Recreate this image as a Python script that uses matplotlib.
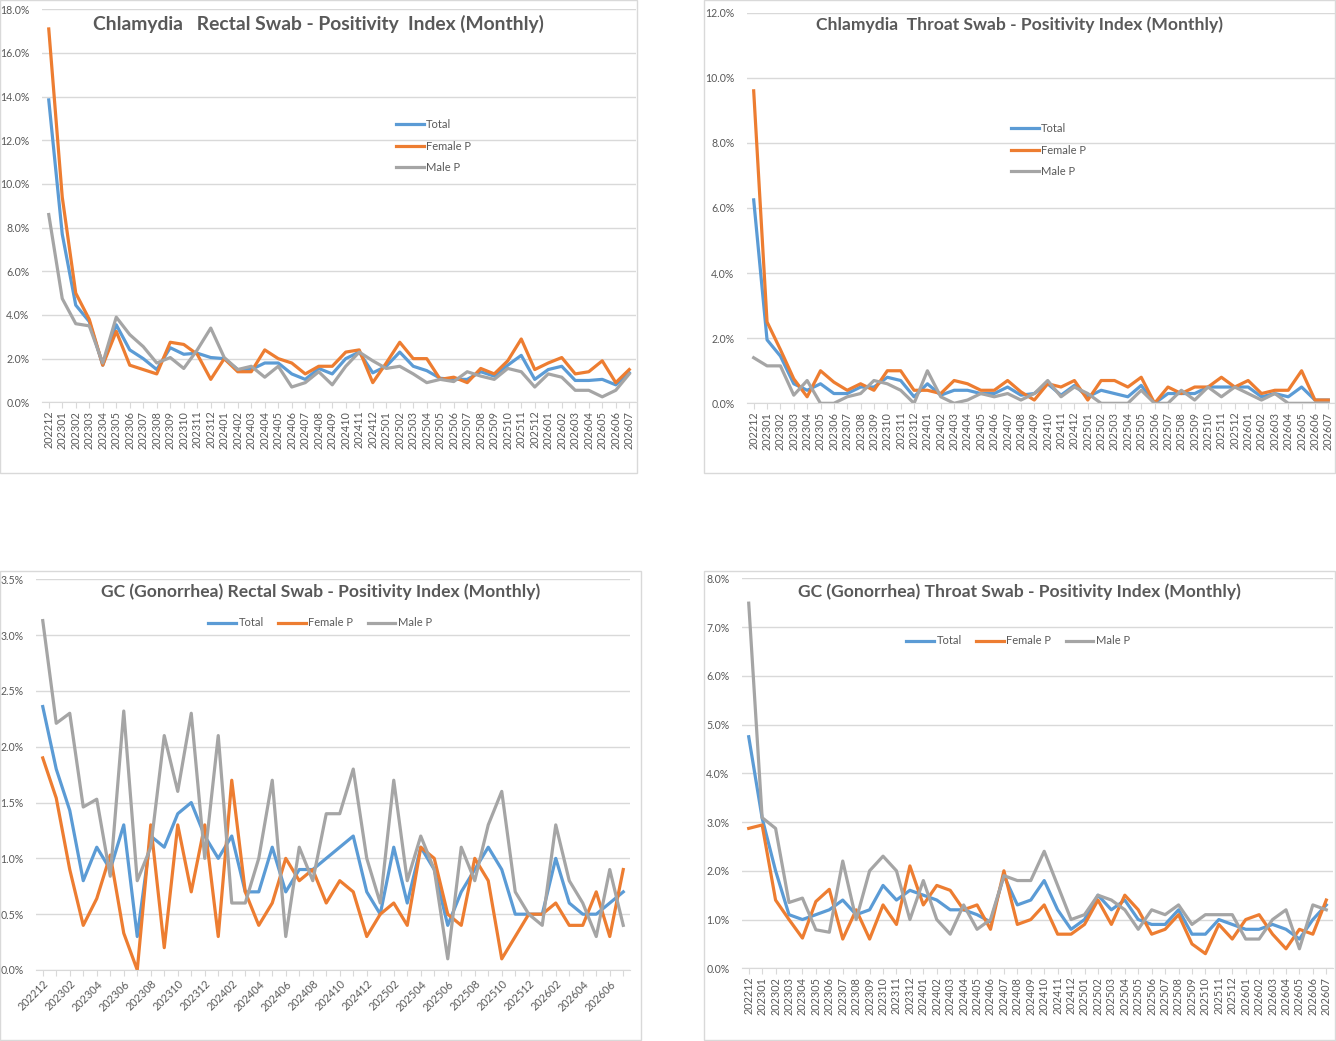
import numpy as np
import matplotlib
matplotlib.use("Agg")
import matplotlib.pyplot as plt
from matplotlib.patches import Rectangle

plt.rcParams['font.family'] = ['Lato', 'DejaVu Sans']

# months 202212 .. 202607
months = []
for y, m in [(2022, 12)] + [(yy, mm) for yy in (2023, 2024, 2025) for mm in range(1, 13)] + [(2026, mm) for mm in range(1, 8)]:
    months.append(f"{y}{m:02d}")

# Chlamydia rectal swab (%)
ct_rectal_total = [13.85, 7.7, 4.45, 3.7, 1.7, 3.55, 2.4, 2.0, 1.5, 2.5, 2.2, 2.25, 2.05, 2.0, 1.5, 1.5,
                   1.8, 1.8, 1.3, 1.05, 1.55, 1.3, 2.0, 2.3, 1.35, 1.65, 2.3, 1.65, 1.45, 1.1, 1.05, 1.05,
                   1.4, 1.2, 1.7, 2.15, 1.05, 1.5, 1.65, 1.0, 1.0, 1.05, 0.8, 1.35]
ct_rectal_female = [17.1, 9.4, 5.0, 3.8, 1.7, 3.25, 1.7, 1.5, 1.3, 2.75, 2.65, 2.2, 1.05, 2.0, 1.4, 1.4,
                    2.4, 2.0, 1.8, 1.3, 1.65, 1.65, 2.3, 2.4, 0.9, 1.8, 2.75, 2.0, 2.0, 1.05, 1.15, 0.9,
                    1.55, 1.3, 1.9, 2.9, 1.5, 1.8, 2.05, 1.3, 1.4, 1.9, 0.9, 1.5]
ct_rectal_male = [8.6, 4.75, 3.6, 3.5, 1.8, 3.9, 3.1, 2.55, 1.8, 2.05, 1.55, 2.4, 3.4, 2.05, 1.5, 1.65,
                  1.15, 1.65, 0.7, 0.9, 1.4, 0.8, 1.65, 2.3, 1.9, 1.55, 1.65, 1.3, 0.9, 1.05, 0.95, 1.4,
                  1.2, 1.05, 1.55, 1.4, 0.7, 1.3, 1.15, 0.55, 0.55, 0.25, 0.55, 1.3]

# Chlamydia throat swab (%)
ct_throat_total = [6.25, 1.95, 1.45, 0.6, 0.4, 0.6, 0.3, 0.3, 0.5, 0.5, 0.8, 0.7, 0.2, 0.6, 0.25, 0.4,
                   0.4, 0.3, 0.3, 0.5, 0.25, 0.3, 0.6, 0.25, 0.55, 0.2, 0.4, 0.3, 0.2, 0.55, 0.0, 0.3,
                   0.3, 0.3, 0.5, 0.5, 0.5, 0.5, 0.2, 0.3, 0.2, 0.5, 0.1, 0.1]
ct_throat_female = [9.6, 2.5, 1.65, 0.75, 0.2, 1.0, 0.65, 0.4, 0.6, 0.4, 1.0, 1.0, 0.4, 0.4, 0.3, 0.7,
                    0.6, 0.4, 0.4, 0.7, 0.35, 0.1, 0.6, 0.5, 0.7, 0.1, 0.7, 0.7, 0.5, 0.8, 0.0, 0.5,
                    0.3, 0.5, 0.5, 0.8, 0.5, 0.7, 0.3, 0.4, 0.4, 1.0, 0.1, 0.1]
ct_throat_male = [1.4, 1.15, 1.15, 0.25, 0.7, 0.0, 0.0, 0.2, 0.3, 0.7, 0.6, 0.4, 0.0, 1.0, 0.2, 0.0,
                  0.1, 0.3, 0.2, 0.3, 0.1, 0.3, 0.7, 0.2, 0.5, 0.3, 0.0, 0.0, 0.0, 0.4, 0.0, 0.0,
                  0.4, 0.1, 0.5, 0.2, 0.5, 0.3, 0.1, 0.3, 0.0, 0.0, 0.0, 0.0]

# GC rectal swab (%)
gc_rectal_total = [2.36, 1.8, 1.43, 0.8, 1.1, 0.9, 1.3, 0.3, 1.2, 1.1, 1.4, 1.5, 1.2, 1.0, 1.2, 0.7,
                   0.7, 1.1, 0.7, 0.9, 0.9, 1.0, 1.1, 1.2, 0.7, 0.5, 1.1, 0.6, 1.1, 0.9, 0.4, 0.7,
                   0.9, 1.1, 0.9, 0.5, 0.5, 0.5, 1.0, 0.6, 0.5, 0.5, 0.6, 0.7]
gc_rectal_female = [1.9, 1.54, 0.9, 0.4, 0.64, 1.03, 0.33, 0.0, 1.3, 0.2, 1.3, 0.7, 1.3, 0.3, 1.7, 0.7,
                    0.4, 0.6, 1.0, 0.8, 0.9, 0.6, 0.8, 0.7, 0.3, 0.5, 0.6, 0.4, 1.1, 1.0, 0.5, 0.4,
                    1.0, 0.8, 0.1, 0.3, 0.5, 0.5, 0.6, 0.4, 0.4, 0.7, 0.3, 0.9]
gc_rectal_male = [3.13, 2.21, 2.3, 1.46, 1.53, 0.84, 2.32, 0.8, 1.1, 2.1, 1.6, 2.3, 1.0, 2.1, 0.6, 0.6,
                  1.0, 1.7, 0.3, 1.1, 0.8, 1.4, 1.4, 1.8, 1.0, 0.6, 1.7, 0.8, 1.2, 0.9, 0.1, 1.1,
                  0.8, 1.3, 1.6, 0.7, 0.5, 0.4, 1.3, 0.8, 0.6, 0.3, 0.9, 0.4]

# GC throat swab (%)
gc_throat_total = [4.75, 3.08, 2.0, 1.1, 1.0, 1.1, 1.2, 1.4, 1.1, 1.2, 1.7, 1.4, 1.6, 1.5, 1.4, 1.2,
                   1.2, 1.1, 0.95, 1.9, 1.3, 1.4, 1.8, 1.2, 0.8, 1.0, 1.5, 1.2, 1.4, 1.0, 0.9, 0.9,
                   1.2, 0.7, 0.7, 1.0, 0.9, 0.8, 0.8, 0.9, 0.8, 0.6, 1.0, 1.3]
gc_throat_female = [2.87, 2.94, 1.4, 1.0, 0.62, 1.37, 1.62, 0.6, 1.2, 0.6, 1.3, 0.9, 2.1, 1.3, 1.7, 1.6,
                    1.2, 1.3, 0.8, 2.0, 0.9, 1.0, 1.3, 0.7, 0.7, 0.9, 1.4, 0.9, 1.5, 1.2, 0.7, 0.8,
                    1.1, 0.5, 0.3, 0.9, 0.6, 1.0, 1.1, 0.7, 0.4, 0.8, 0.7, 1.4]
gc_throat_male = [7.49, 3.09, 2.87, 1.35, 1.44, 0.79, 0.74, 2.2, 1.0, 2.0, 2.3, 2.0, 1.0, 1.8, 1.0, 0.7,
                  1.3, 0.8, 1.0, 1.9, 1.8, 1.8, 2.4, 1.7, 1.0, 1.1, 1.5, 1.4, 1.2, 0.8, 1.2, 1.1,
                  1.3, 0.9, 1.1, 1.1, 1.1, 0.6, 0.6, 1.0, 1.2, 0.4, 1.3, 1.2]

series_names = ["Total", "Female P", "Male P"]
colors = ["#5B9BD5", "#ED7D31", "#A5A5A5"]
text_color = "#595959"
grid_color = "#D9D9D9"

W, H = 1336, 1041
fig = plt.figure(figsize=(W / 100, H / 100), dpi=100)


def fbox(l, t, r, b):
    return [l / W, 1 - b / H, (r - l) / W, (b - t) / H]


def chart(frame, plot, title, title_y, title_size, data, ymax, ystep, label_every, rot, legend):
    fig.patches.append(Rectangle((frame[0] / W, 1 - frame[3] / H), (frame[2] - frame[0]) / W,
                                 (frame[3] - frame[1]) / H, transform=fig.transFigure,
                                 fill=False, edgecolor=grid_color, linewidth=1.0))
    ax = fig.add_axes(fbox(*plot))
    x = np.arange(len(months))
    for vals, name, c in zip(data, series_names, colors):
        ax.plot(x, vals, color=c, linewidth=2.3, label=name, solid_joinstyle='round')
    ax.set_xlim(-0.5, len(months) - 0.5)
    ax.set_ylim(0, ymax)
    yt = np.arange(0, ymax + 1e-9, ystep)
    ax.set_yticks(yt)
    ax.set_yticklabels([f"{v:.1f}%" for v in yt], fontsize=7.6, color=text_color)
    ax.set_xticks(x)
    ax.set_xticklabels([m if i % label_every == 0 else "" for i, m in enumerate(months)],
                       fontsize=7.8, color=text_color, rotation=rot,
                       ha='center' if rot == 90 else 'right',
                       rotation_mode='default' if rot == 90 else 'anchor')
    ax.grid(axis='y', color=grid_color, linewidth=1.0)
    ax.set_axisbelow(True)
    for s in ['top', 'right', 'left']:
        ax.spines[s].set_visible(False)
    ax.spines['bottom'].set_color(grid_color)
    ax.tick_params(axis='y', length=0, pad=9)
    ax.tick_params(axis='x', length=4, color=grid_color, pad=2)
    fig.text(((frame[0] + frame[2]) / 2) / W, 1 - title_y / H, title, ha='center', va='center',
             fontsize=title_size, fontweight='bold', color=text_color)
    kind, lx, ly = legend
    if kind == 'v':
        ax.legend(loc='center left', bbox_to_anchor=(lx / W, 1 - ly / H), bbox_transform=fig.transFigure,
                  frameon=False, fontsize=8, labelcolor=text_color, handlelength=2.5,
                  handletextpad=0.2, labelspacing=0.95, borderpad=0, borderaxespad=0)
    else:
        ax.legend(loc='center', bbox_to_anchor=(lx / W, 1 - ly / H), bbox_transform=fig.transFigure,
                  frameon=False, fontsize=8, labelcolor=text_color, handlelength=2.5, ncol=3,
                  handletextpad=0.2, columnspacing=1.3, borderpad=0, borderaxespad=0)
    return ax


chart((0, 0, 637, 473), (42, 9.3, 636, 402.3), "Chlamydia   Rectal Swab - Positivity  Index (Monthly)", 24, 13.9,
      [ct_rectal_total, ct_rectal_female, ct_rectal_male], 18, 2, 1, 90, ('v', 396, 146))
chart((704, 0, 1335, 473), (747, 12.7, 1335, 403.3), "Chlamydia  Throat Swab - Positivity Index (Monthly)", 25, 12.6,
      [ct_throat_total, ct_throat_female, ct_throat_male], 12, 2, 1, 90, ('v', 1011, 150))
chart((0, 571, 641, 1040), (36, 579.3, 630, 970), "GC (Gonorrhea) Rectal Swab - Positivity Index (Monthly)", 592, 12.6,
      [gc_rectal_total, gc_rectal_female, gc_rectal_male], 3.5, 0.5, 2, 45, ('h', 320, 623))
chart((704, 571, 1335, 1040), (742, 578.3, 1333, 968.3), "GC (Gonorrhea) Throat Swab - Positivity Index (Monthly)", 592, 12.6,
      [gc_throat_total, gc_throat_female, gc_throat_male], 8, 1, 1, 90, ('h', 1018, 641))

fig.savefig("out.png", dpi=100, facecolor="white")
